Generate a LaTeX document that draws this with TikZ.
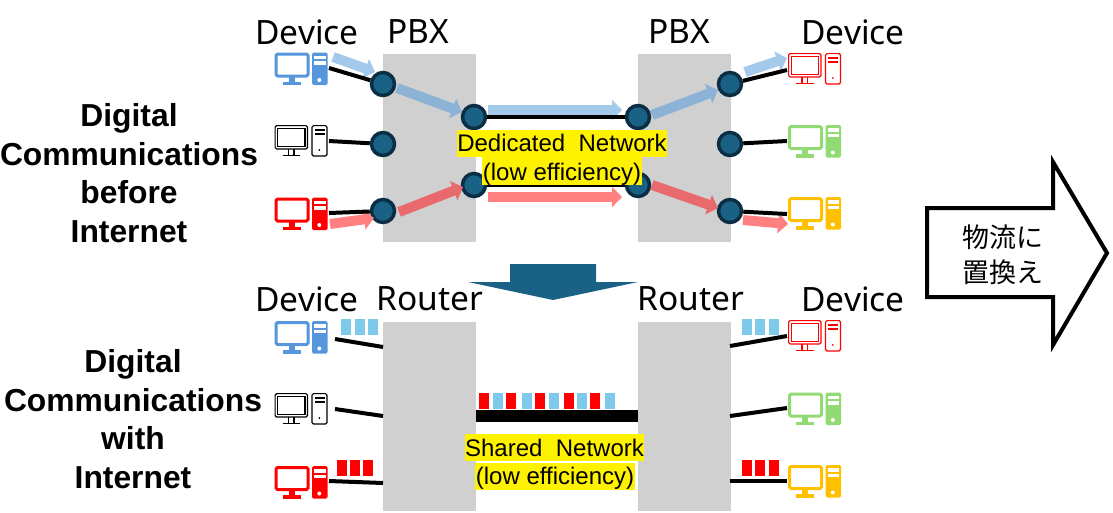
\documentclass[tikz,border=0pt]{standalone}
\usepackage{fontspec}
\setmainfont{Liberation Sans}
\newfontfamily\headfont{Noto Sans}
\newfontfamily\cjkfont{Noto Sans CJK JP}
\usetikzlibrary{arrows.meta, positioning, calc}
\definecolor{hubblue}{RGB}{26,98,133}
\definecolor{hubdark}{RGB}{12,46,68}
\definecolor{boxgray}{RGB}{208,208,208}
\definecolor{pcblue}{RGB}{85,150,220}
\definecolor{pcgreen}{RGB}{146,218,116}
\definecolor{pcamber}{RGB}{255,192,0}
\definecolor{flowblue}{RGB}{163,201,235}
\definecolor{flowbluedark}{RGB}{140,178,214}
\definecolor{flowred}{RGB}{255,128,128}
\definecolor{flowreddark}{RGB}{232,106,108}
\definecolor{pktblue}{RGB}{127,201,234}
\tikzset{
  hub/.style={circle, fill=hubblue, draw=hubdark, line width=3.5pt, minimum size=23pt, inner sep=0pt},
  wire/.style={black, line width=4pt},
  flow/.style={line width=10pt, -{Triangle[length=10pt,width=20pt]}},
  head/.style={font=\headfont\fontsize{33.5}{38}\selectfont},
  side/.style={font=\bfseries\fontsize{31.8}{35}\selectfont, align=center},
  tag/.style={fill=yellow, inner sep=0pt, font=\fontsize{24}{28}\selectfont},
  pcsolid/.pic={
    \draw[#1, line width=3pt, rounded corners=1.5pt, fill=white] (1.5,1.5) rectangle (33.5,23.5);
    \fill[#1] (14,24) rectangle (20,29);
    \fill[#1] (8,29) rectangle (26,32.5);
    \fill[#1, rounded corners=1.5pt] (37.5,0) rectangle (53,32.5);
    \fill[white] (39.5,3) rectangle (51,6.5);
    \fill[white] (39.5,8.5) rectangle (51,12);
    \fill[white] (44.8,27.5) circle (2pt);
  },
  pcline/.pic={
    \draw[#1, line width=1.2pt, rounded corners=1.5pt] (0.6,0.6) rectangle (33,24);
    \draw[#1, line width=1.2pt] (3.2,3.2) rectangle (30.5,21.5);
    \draw[#1, line width=1.2pt] (14,24) -- (14,30.5) (19.5,24) -- (19.5,30.5) (8,30.5) -- (25.5,30.5);
    \draw[#1, line width=1.2pt, rounded corners=1.5pt] (37.5,0.6) rectangle (52.5,31);
    \fill[#1] (40,4) rectangle (50,5.5);
    \fill[#1] (40,8) rectangle (50,9.5);
    \fill[#1] (44.8,25) circle (1pt);
  },
}
\begin{document}
\begin{tikzpicture}[x=1pt, y=-1pt]
  \useasboundingbox (0,0) rectangle (1113,512);
  % Boxes
  \fill[boxgray] (383,54) rectangle (476,242);
  \fill[boxgray] (638,54) rectangle (731,242);
  \fill[boxgray] (383,322) rectangle (476,511);
  \fill[boxgray] (638,322) rectangle (731,511);
  % Devices, upper half
  \pic at (274.5,52.5) {pcsolid=pcblue};
  \pic at (274.5,125) {pcline=black};
  \pic at (274.5,197.5) {pcsolid=red};
  \pic at (788,53) {pcline=red};
  \pic at (788,125) {pcsolid=pcgreen};
  \pic at (788,197) {pcsolid=pcamber};
  % Devices, lower half
  \pic at (274.5,321) {pcsolid=pcblue};
  \pic at (274.5,393) {pcline=black};
  \pic at (274.5,466) {pcsolid=red};
  \pic at (788,320) {pcline=red};
  \pic at (788,392.5) {pcsolid=pcgreen};
  \pic at (788,465) {pcsolid=pcamber};
  % Hubs
  \node[hub] (pbxa) at (383,84) {};
  \node[hub] (pbxb) at (383,144) {};
  \node[hub] (pbxc) at (383,211) {};
  \node[hub] (lneta) at (474,117) {};
  \node[hub] (lnetc) at (474,185) {};
  \node[hub] (rneta) at (638,117) {};
  \node[hub] (rnetc) at (638,185) {};
  \node[hub] (pbxd) at (730,84) {};
  \node[hub] (pbxe) at (730,144) {};
  \node[hub] (pbxf) at (730,211) {};
  % Ends of the wires at the devices
  \coordinate (da) at (329,68);
  \coordinate (db) at (329,141);
  \coordinate (dc) at (329,213);
  \coordinate (dd) at (787,70);
  \coordinate (de) at (787,141);
  \coordinate (df) at (787,214);
  \coordinate (ua) at (335,339);
  \coordinate (ub) at (335,409);
  \coordinate (uc) at (329,481);
  \coordinate (ud) at (787,336);
  \coordinate (ue) at (787,408);
  \coordinate (uf) at (787,481);
  \coordinate (va) at (383,347);
  \coordinate (vb) at (383,416);
  \coordinate (vc) at (383,483);
  \coordinate (vd) at (730,346);
  \coordinate (ve) at (730,416);
  \coordinate (vf) at (730,481);
  % Flows
  \coordinate (fa) at (333,57);   \coordinate (ga) at (375,72);
  \coordinate (fb) at (397,88);   \coordinate (gb) at (462,112);
  \coordinate (fc) at (488,110);  \coordinate (gc) at (622,110);
  \coordinate (fd) at (652,115);  \coordinate (gd) at (718,90);
  \coordinate (fe) at (745,72);   \coordinate (ge) at (787,58);
  \coordinate (ka) at (330,224);  \coordinate (la) at (374,218);
  \coordinate (kb) at (399,212);  \coordinate (lb) at (463,187);
  \coordinate (kc) at (488,197);  \coordinate (lc) at (622,197);
  \coordinate (kd) at (652,185);  \coordinate (ld) at (718,208);
  \coordinate (ke) at (743,220);  \coordinate (le) at (788,224);
  \draw[flow, flowblue] (fa) -- (ga);
  \draw[flow, flowbluedark] (fb) -- (gb);
  \draw[flow, flowblue] (fc) -- (gc);
  \draw[flow, flowbluedark] (fd) -- (gd);
  \draw[flow, flowblue] (fe) -- (ge);
  \draw[flow, flowred] (ka) -- (la);
  \draw[flow, flowreddark] (kb) -- (lb);
  \draw[flow, flowred] (kc) -- (lc);
  \draw[flow, flowreddark] (kd) -- (ld);
  \draw[flow, flowred] (ke) -- (le);
  % Wires
  \draw[wire] (da) -- (pbxa);
  \draw[wire] (db) -- (pbxb);
  \draw[wire] (dc) -- (pbxc);
  \draw[wire] (lneta) -- (rneta);
  \draw[wire] (lnetc) -- (rnetc);
  \draw[wire] (pbxd) -- (dd);
  \draw[wire] (pbxe) -- (de);
  \draw[wire] (pbxf) -- (df);
  \draw[wire] (ua) -- (va);
  \draw[wire] (ub) -- (vb);
  \draw[wire] (uc) -- (vc);
  \draw[wire] (vd) -- (ud);
  \draw[wire] (ve) -- (ue);
  \draw[wire] (vf) -- (uf);
  % Shared line
  \fill[black] (476,410) rectangle (638,422);
  % Packets
  \foreach \px/\pc in {479/red,493/pktblue,506/red,522/pktblue,535/red,549/pktblue,564/red,577/pktblue,590/red,605/pktblue}
    \fill[\pc] (\px,393) rectangle ++(10,16);
  \foreach \px in {341,355,368,742,755,769}
    \fill[pktblue] (\px,319) rectangle ++(10,16);
  \foreach \px in {337,350,363,742,755,769}
    \fill[red] (\px,460) rectangle ++(10,16);
  % Big arrows
  \fill[hubblue] (510,264) -- (596,264) -- (596,282) -- (638,282) -- (553,300) -- (468,282) -- (510,282) -- cycle;
  \draw[black, line width=4pt, fill=white, miter limit=10] (927,208) -- (1053,208) -- (1053,162) -- (1107,253) -- (1053,345) -- (1053,297) -- (927,297) -- cycle;
  \node[font=\cjkfont\fontsize{27}{35}\selectfont, align=center] (swap) at (1003,255) {物流に\\置換え};
  % Labels
  \node[head] (deva) at (307,32) {Device};
  \node[head] (pbxl) at (418,32) {PBX};
  \node[head] (pbxr) at (679,32) {PBX};
  \node[head] (devb) at (853,32) {Device};
  \node[head] (devc) at (307,299) {Device};
  \node[head] (routl) at (430,299) {Router};
  \node[head] (routr) at (691,299) {Router};
  \node[head] (devd) at (853,299) {Device};
  \node[side] (before) at (129,173) {Digital\\[3.5pt]Communications\\[3.5pt]before\\[3.5pt]Internet};
  \node[side] (with) at (133,419) {Digital\\[3.5pt]Communications\\[3.5pt]with\\[3.5pt]Internet};
  \node[tag, minimum width=210pt, text height=21.3pt, text depth=5.7pt] (dedi) at (562,143.5) {Dedicated\ \ Network};
  \node[tag, minimum width=160pt, text height=23pt, text depth=5pt] (dedl) at (562,171) {(low efficiency)};
  \node[tag, minimum width=179pt, text height=22pt, text depth=5pt] (shar) at (554.5,447.5) {Shared\ \ Network};
  \node[tag, minimum width=160pt, text height=21pt, text depth=6pt] (shal) at (555,476.5) {(low efficiency)};
\end{tikzpicture}
\end{document}
